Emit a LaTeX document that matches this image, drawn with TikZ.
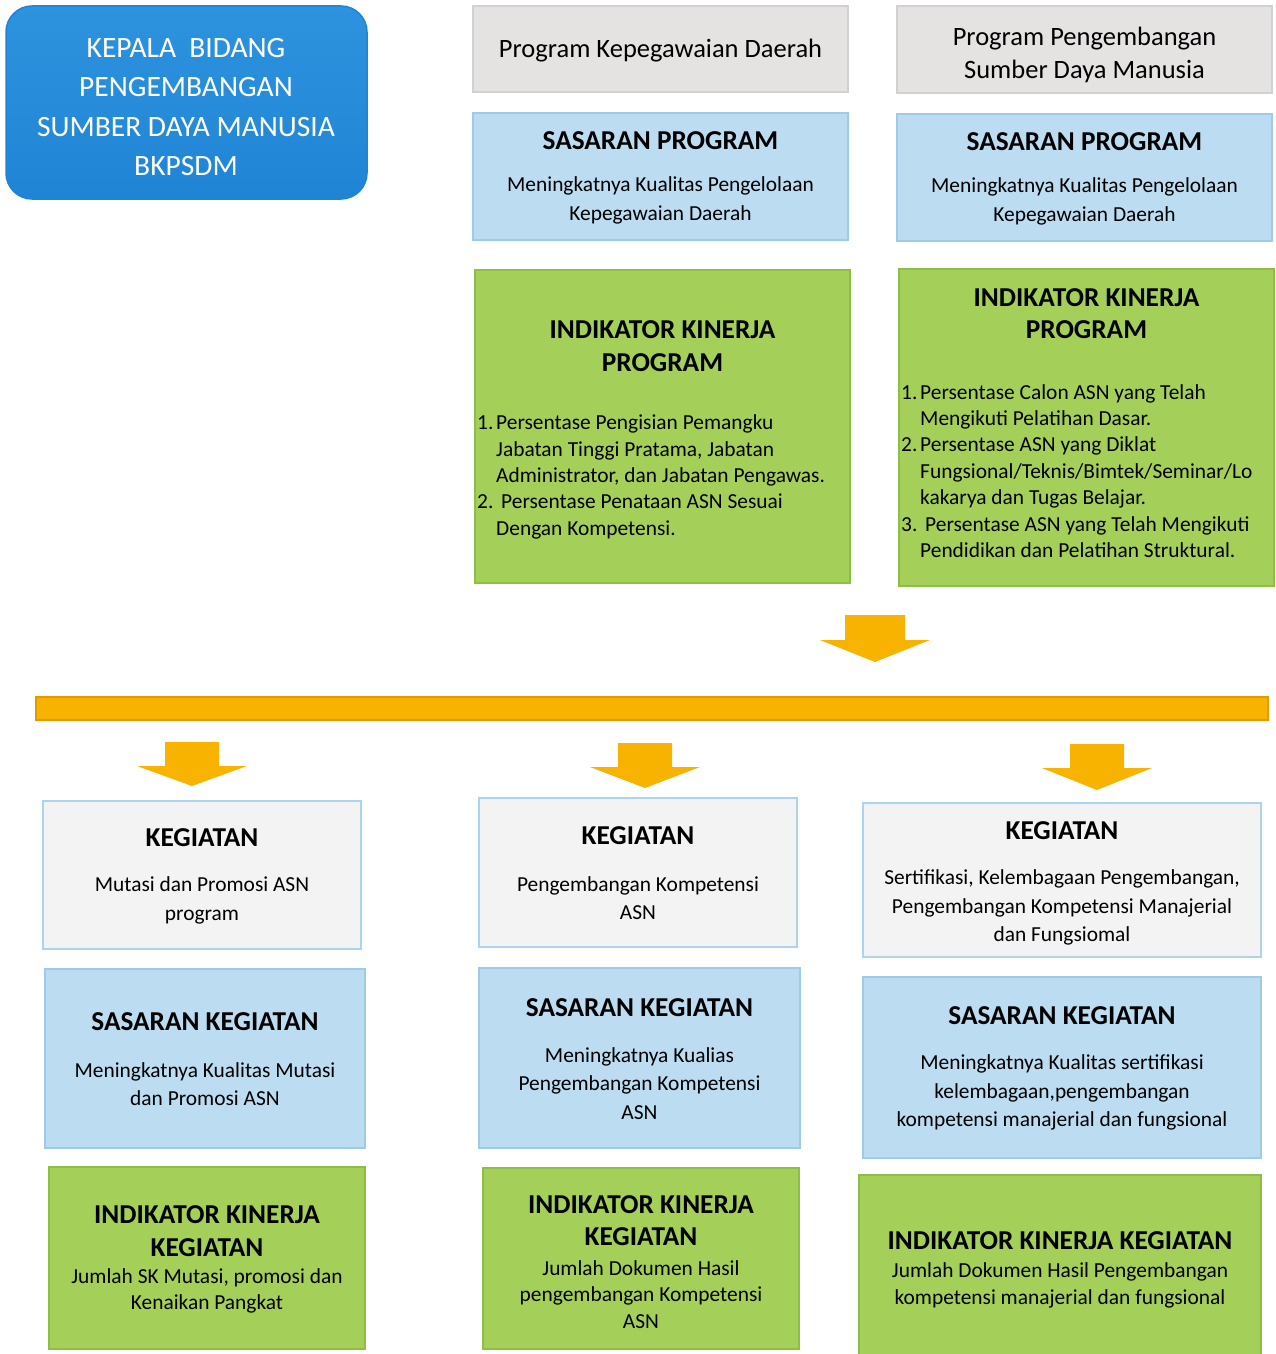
\documentclass[tikz,border=0pt]{standalone}
\usepackage{fontspec}
\setmainfont{Carlito}
\definecolor{headblue}{HTML}{1F84D4}
\definecolor{headblueT}{HTML}{2E93DE}
\definecolor{grayfill}{HTML}{E5E2E2}
\definecolor{grayline}{HTML}{D2D0D0}
\definecolor{bluefill}{HTML}{BBDCF1}
\definecolor{blueline}{HTML}{9FCBEA}
\definecolor{greenfill}{HTML}{A4D05A}
\definecolor{greenline}{HTML}{8EBE44}
\definecolor{kegfill}{HTML}{F3F3F3}
\definecolor{kegline}{HTML}{ABD4EF}
\definecolor{arrowfill}{HTML}{F7B300}
\definecolor{barline}{HTML}{E39A00}
\tikzset{
  x=1pt, y=-1pt,
  boxbase/.style={anchor=north west, inner sep=0pt, outer sep=0pt, line width=1.5pt},
  graybox/.style={boxbase, fill=grayfill, draw=grayline},
  bluebox/.style={boxbase, fill=bluefill, draw=blueline},
  greenbox/.style={boxbase, fill=greenfill, draw=greenline},
  kegbox/.style={boxbase, fill=kegfill, draw=kegline},
  ttl/.style={inner sep=0pt, align=center, font={\fontsize{27.3}{32.5}\selectfont\bfseries}},
  body/.style={inner sep=0pt, align=center, font={\fontsize{21.4}{28.5}\selectfont}},
  prog/.style={inner sep=0pt, align=center, font={\fontsize{26.5}{33}\selectfont}},
  lst/.style={inner sep=0pt, align=left, font={\fontsize{21.4}{26.4}\selectfont}},
  headtxt/.style={inner sep=0pt, align=center, text=white, font={\fontsize{29.5}{39.3}\selectfont}},
}
\newcommand{\blockarrow}[7]{% name, cx, top, shaft half, neck y, head half, tip y
  \coordinate (#1) at (#2,#3);
  \fill[arrowfill] ({#2-#4},#3) -- ({#2+#4},#3) -- ({#2+#4},#5) -- ({#2+#6},#5)
     -- (#2,#7) -- ({#2-#6},#5) -- ({#2-#4},#5) -- cycle;
}
\begin{document}
\begin{tikzpicture}
\useasboundingbox[fill=white] (0,0) rectangle (1276,1354);

% head box
\node[boxbase, rounded corners=26pt, top color=headblueT, bottom color=headblue, draw=headblue,
      minimum width=361, minimum height=193] (head) at (6,6) {};
\node[headtxt] (headt) at (186,107) {KEPALA\ \ BIDANG\\PENGEMBANGAN\\SUMBER DAYA MANUSIA\\BKPSDM};

% program boxes
\node[graybox, minimum width=375, minimum height=86] (prog1) at (473,6) {};
\node[prog] (prog1t) at (660.5,51) {Program Kepegawaian Daerah};
\node[graybox, minimum width=375, minimum height=87] (prog2) at (897,6) {};
\node[prog] (prog2t) at (1084.5,54.5) {Program Pengembangan\\Sumber Daya Manusia};

% sasaran program
\node[bluebox, minimum width=375, minimum height=127] (sp1) at (473,113) {};
\node[ttl] (sp1t) at (660.5,141) {SASARAN PROGRAM};
\node[body] (sp1b) at (660.5,200.5) {Meningkatnya Kualitas Pengelolaan\\Kepegawaian Daerah};
\node[bluebox, minimum width=375, minimum height=127] (sp2) at (897,114) {};
\node[ttl] (sp2t) at (1084.5,142) {SASARAN PROGRAM};
\node[body] (sp2b) at (1084.5,201.5) {Meningkatnya Kualitas Pengelolaan\\Kepegawaian Daerah};

% indikator kinerja program
\node[greenbox, minimum width=375, minimum height=313] (ikp1) at (475,270) {};
\node[ttl] (ikp1t) at (662.5,346) {INDIKATOR KINERJA\\PROGRAM};
\node[lst, anchor=west] (ikp1b) at (477,477) {\makebox[19pt][l]{1.}Persentase Pengisian Pemangku\\
\hspace*{19pt}Jabatan Tinggi Pratama, Jabatan\\
\hspace*{19pt}Administrator, dan Jabatan Pengawas.\\
\makebox[24pt][l]{2.}Persentase Penataan ASN Sesuai\\
\hspace*{19pt}Dengan Kompetensi.};
\node[greenbox, minimum width=375, minimum height=317] (ikp2) at (899,269) {};
\node[ttl] (ikp2t) at (1086.5,313.5) {INDIKATOR KINERJA\\PROGRAM};
\node[lst, anchor=west] (ikp2b) at (901,471) {\makebox[19pt][l]{1.}Persentase Calon ASN yang Telah\\
\hspace*{19pt}Mengikuti Pelatihan Dasar.\\
\makebox[19pt][l]{2.}Persentase ASN yang Diklat\\
\hspace*{19pt}Fungsional/Teknis/Bimtek/Seminar/Lo\\
\hspace*{19pt}kakarya dan Tugas Belajar.\\
\makebox[24pt][l]{3.}Persentase ASN yang Telah Mengikuti\\
\hspace*{19pt}Pendidikan dan Pelatihan Struktural.};

% arrows and bar
\blockarrow{atop}{875}{615}{30}{640}{55}{662}
\node[boxbase, fill=arrowfill, draw=barline, line width=1.2pt, minimum width=1232, minimum height=23] (bar) at (36,697) {};
\blockarrow{a1}{192}{742}{27}{766}{55}{786}
\blockarrow{a2}{645}{743}{27}{767}{55}{788}
\blockarrow{a3}{1097}{744}{27}{768}{55}{790}

% kegiatan
\node[kegbox, minimum width=318, minimum height=148] (k1) at (43,801) {};
\node[ttl] (k1t) at (202,838) {KEGIATAN};
\node[body] (k1b) at (202,900.5) {Mutasi dan Promosi ASN\\program};
\node[kegbox, minimum width=318, minimum height=149] (k2) at (479,798) {};
\node[ttl] (k2t) at (638,836) {KEGIATAN};
\node[body] (k2b) at (638,898) {Pengembangan Kompetensi\\ASN};
\node[kegbox, minimum width=398, minimum height=154] (k3) at (863,803) {};
\node[ttl] (k3t) at (1062,831) {KEGIATAN};
\node[body] (k3b) at (1062,907.5) {Sertifikasi, Kelembagaan Pengembangan,\\Pengembangan Kompetensi Manajerial\\dan Fungsiomal};

% sasaran kegiatan
\node[bluebox, minimum width=320, minimum height=179] (sk1) at (45,969) {};
\node[ttl] (sk1t) at (205,1022) {SASARAN KEGIATAN};
\node[body] (sk1b) at (205,1084) {Meningkatnya Kualitas Mutasi\\dan Promosi ASN};
\node[bluebox, minimum width=321, minimum height=180] (sk2) at (479,968) {};
\node[ttl] (sk2t) at (639.5,1008) {SASARAN KEGIATAN};
\node[body] (sk2b) at (639.5,1083.5) {Meningkatnya Kualias\\Pengembangan Kompetensi\\ASN};
\node[bluebox, minimum width=398, minimum height=181] (sk3) at (863,977) {};
\node[ttl] (sk3t) at (1062,1016) {SASARAN KEGIATAN};
\node[body] (sk3b) at (1062,1092.5) {Meningkatnya Kualitas sertifikasi\\kelembagaan,pengembangan\\kompetensi manajerial dan fungsional};

% indikator kinerja kegiatan
\node[greenbox, minimum width=316, minimum height=182] (ikk1) at (49,1167) {};
\node[ttl] (ikk1t) at (207,1231) {INDIKATOR KINERJA\\KEGIATAN};
\node[body, font={\fontsize{21.4}{26}\selectfont}] (ikk1b) at (207,1291) {Jumlah SK Mutasi, promosi dan\\Kenaikan Pangkat};
\node[greenbox, minimum width=316, minimum height=181] (ikk2) at (483,1168) {};
\node[ttl] (ikk2t) at (641,1220.5) {INDIKATOR KINERJA\\KEGIATAN};
\node[body, font={\fontsize{21.4}{26.5}\selectfont}] (ikk2b) at (641,1294.5) {Jumlah Dokumen Hasil\\pengembangan Kompetensi\\ASN};
\node[greenbox, minimum width=402, minimum height=181] (ikk3) at (859,1175) {};
\node[ttl] (ikk3t) at (1060,1241) {INDIKATOR KINERJA KEGIATAN};
\node[body, font={\fontsize{21.4}{27}\selectfont}] (ikk3b) at (1060,1285.5) {Jumlah Dokumen Hasil Pengembangan\\kompetensi manajerial dan fungsional};
\end{tikzpicture}
\end{document}
